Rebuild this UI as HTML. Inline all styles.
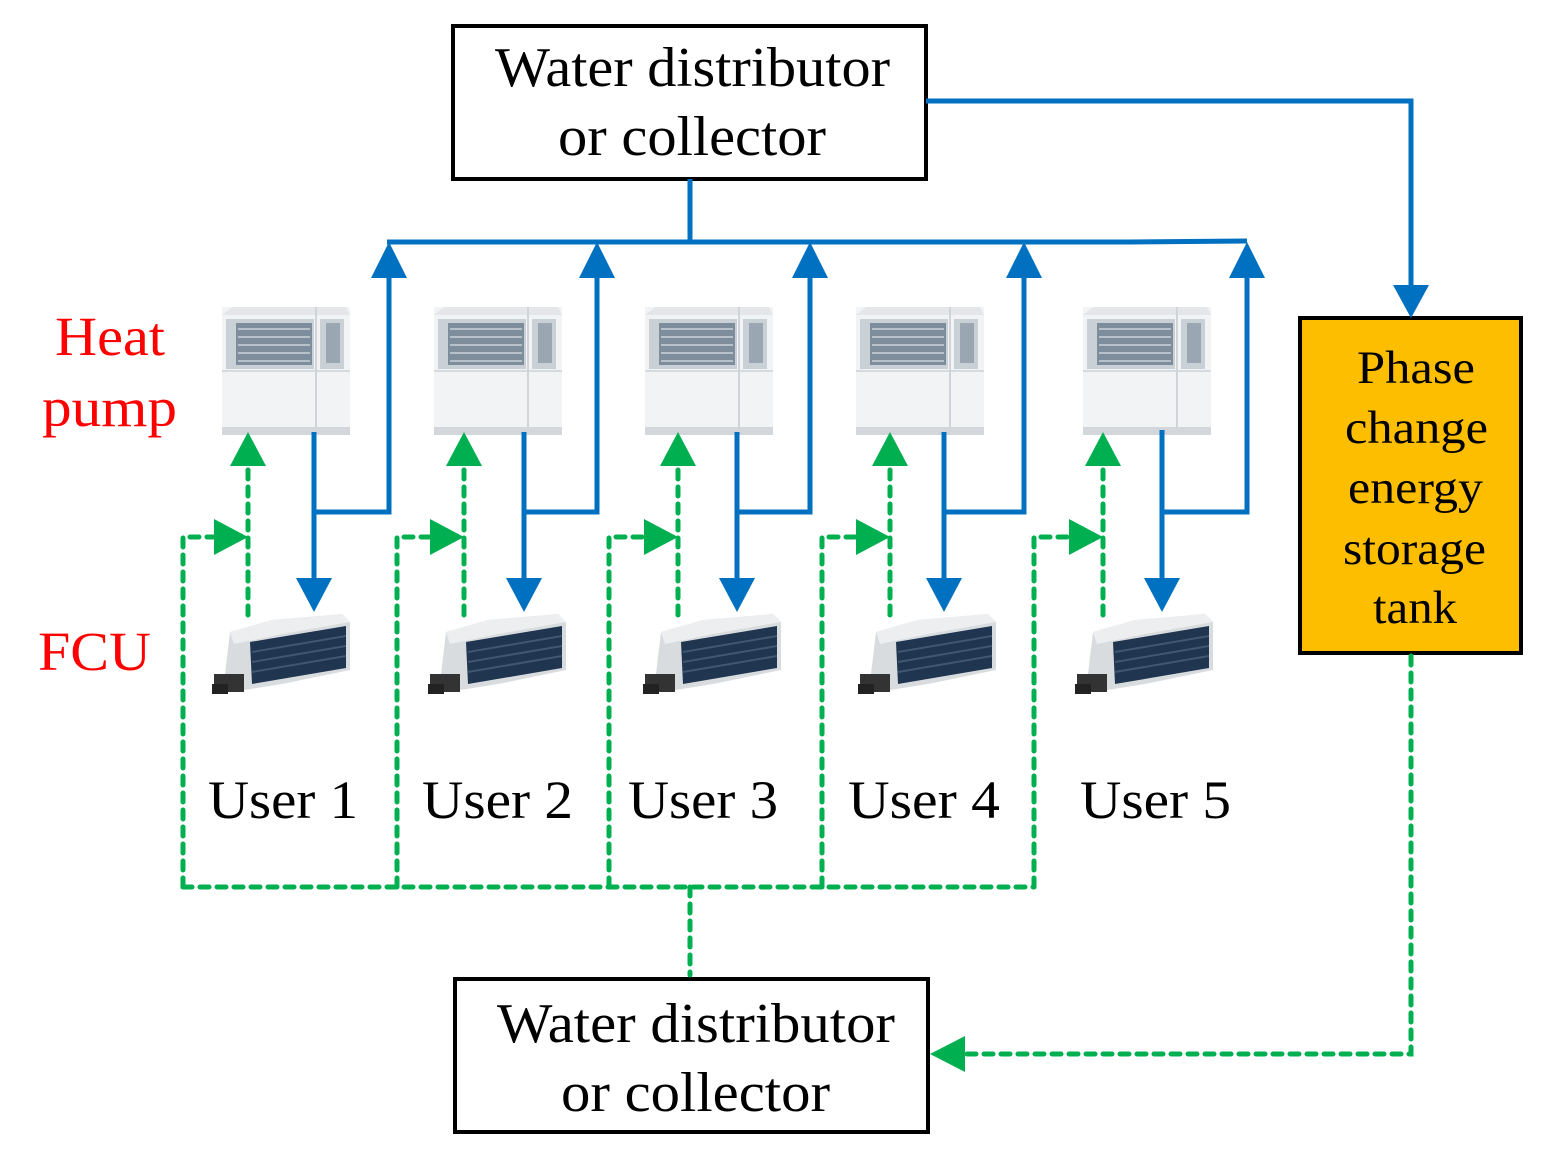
<!DOCTYPE html>
<html><head><meta charset="utf-8"><style>body{margin:0;background:#fff}svg{display:block}text{font-family:"Liberation Serif",serif}</style></head><body>
<svg width="1556" height="1160" viewBox="0 0 1556 1160" xmlns="http://www.w3.org/2000/svg">
<defs>
<g id="hp">
<rect x="0" y="0" width="128" height="128" fill="#f2f3f5"/>
<polygon points="0,8 10,0 124,0 128,8" fill="#e4e6e9"/>
<rect x="4" y="12" width="88" height="50" fill="#c9d0d6"/>
<rect x="14" y="16" width="76" height="42" fill="#7d8d9c"/>
<g stroke="#b7c1ca" stroke-width="2"><line x1="16" y1="22" x2="88" y2="22"/><line x1="16" y1="30" x2="88" y2="30"/><line x1="16" y1="38" x2="88" y2="38"/><line x1="16" y1="46" x2="88" y2="46"/><line x1="16" y1="54" x2="88" y2="54"/></g>
<rect x="98" y="12" width="24" height="50" fill="#c9d0d6"/>
<rect x="104" y="16" width="14" height="40" fill="#9aa6b2"/>
<line x1="0" y1="64" x2="128" y2="64" stroke="#d6d9dd" stroke-width="2"/>
<line x1="94" y1="0" x2="94" y2="128" stroke="#d0d3d8" stroke-width="2"/>
<rect x="0" y="120" width="128" height="8" fill="#d3d6da"/>
</g>
<g id="fcu">
<polygon points="18,20 60,8 130,2 138,10 138,58 70,72 20,80 12,70" fill="#d9dcdf"/>
<polygon points="18,20 60,8 130,2 138,10 70,22 22,32" fill="#eceef0"/>
<polygon points="38,30 134,14 134,56 40,72" fill="#1f3550"/>
<g stroke="#41576f" stroke-width="2"><line x1="40" y1="40" x2="134" y2="24"/><line x1="40" y1="50" x2="134" y2="34"/><line x1="40" y1="60" x2="134" y2="44"/></g>
<rect x="2" y="62" width="30" height="18" fill="#333"/>
<rect x="0" y="72" width="16" height="10" fill="#222"/>
</g>
</defs>

<rect x="453" y="26" width="473" height="153" fill="#fff" stroke="#000" stroke-width="4"/>
<text x="495" y="86" font-size="56" textLength="395" lengthAdjust="spacingAndGlyphs">Water distributor</text>
<text x="558" y="155" font-size="56" textLength="268" lengthAdjust="spacingAndGlyphs">or collector</text>
<rect x="455" y="979" width="473" height="153" fill="#fff" stroke="#000" stroke-width="4"/>
<text x="497" y="1042" font-size="56" textLength="398" lengthAdjust="spacingAndGlyphs">Water distributor</text>
<text x="561" y="1111" font-size="56" textLength="269" lengthAdjust="spacingAndGlyphs">or collector</text>
<rect x="1300" y="318" width="221" height="335" fill="#FDBE00" stroke="#000" stroke-width="4"/>
<g font-size="47" lengthAdjust="spacingAndGlyphs">
<text x="1357" y="383" textLength="118" lengthAdjust="spacingAndGlyphs">Phase</text>
<text x="1345" y="443" textLength="143" lengthAdjust="spacingAndGlyphs">change</text>
<text x="1348" y="503" textLength="135" lengthAdjust="spacingAndGlyphs">energy</text>
<text x="1343" y="564" textLength="143" lengthAdjust="spacingAndGlyphs">storage</text>
<text x="1373" y="623" textLength="84" lengthAdjust="spacingAndGlyphs">tank</text>
</g>
<g fill="#f00" font-size="55">
<text x="55" y="355" textLength="110" lengthAdjust="spacingAndGlyphs">Heat</text>
<text x="42" y="426" textLength="135" lengthAdjust="spacingAndGlyphs">pump</text>
<text x="38" y="670" textLength="113" lengthAdjust="spacingAndGlyphs">FCU</text>
</g>
<g font-size="54">
<text x="208" y="818" textLength="150" lengthAdjust="spacingAndGlyphs">User 1</text>
<text x="422" y="818" textLength="151" lengthAdjust="spacingAndGlyphs">User 2</text>
<text x="628" y="818" textLength="150" lengthAdjust="spacingAndGlyphs">User 3</text>
<text x="848" y="818" textLength="152" lengthAdjust="spacingAndGlyphs">User 4</text>
<text x="1080" y="818" textLength="151" lengthAdjust="spacingAndGlyphs">User 5</text>
</g>

<use href="#hp" x="222" y="307"/><use href="#hp" x="434" y="307"/><use href="#hp" x="645" y="307"/><use href="#hp" x="856" y="307"/><use href="#hp" x="1083" y="307"/>
<use href="#fcu" x="212" y="612"/><use href="#fcu" x="428" y="612"/><use href="#fcu" x="643" y="612"/><use href="#fcu" x="858" y="612"/><use href="#fcu" x="1075" y="612"/>

<g stroke="#0070C0" stroke-width="5" fill="none">
<path d="M926,101 H1411 V285"/>
<path d="M690,179 V242"/>
<path d="M387,242 H1130 L1247,241"/>
<path d="M314,432 V585 M314,512 H389 V275"/>
<path d="M524,432 V585 M524,512 H597 V275"/>
<path d="M737,432 V585 M737,512 H810 V275"/>
<path d="M944,432 V585 M944,512 H1024 V275"/>
<path d="M1162,430 V585 M1162,512 H1247 V275"/>
</g>
<g fill="#0070C0">
<polygon points="1393,285 1429,285 1411,318"/>
<polygon points="296,578 332,578 314,612"/><polygon points="506,578 542,578 524,612"/><polygon points="719,578 755,578 737,612"/><polygon points="926,578 962,578 944,612"/><polygon points="1144,578 1180,578 1162,612"/>
<polygon points="371,278 407,278 389,242"/><polygon points="579,278 615,278 597,242"/><polygon points="792,278 828,278 810,242"/><polygon points="1006,278 1042,278 1024,242"/><polygon points="1229,278 1265,278 1247,242"/>
</g>

<g stroke="#00B050" stroke-width="5" fill="none" stroke-dasharray="9,8" stroke-linecap="round">
<path d="M1411,656 V1054 H965"/>
<path d="M183,887 H1034"/>
<path d="M690,887 V975"/>
<path d="M248,615 V466 M183,887 V537 H216"/>
<path d="M464,615 V466 M397,887 V537 H432"/>
<path d="M678,615 V466 M609,887 V537 H646"/>
<path d="M890,615 V466 M822,887 V537 H858"/>
<path d="M1103,615 V466 M1034,887 V537 H1071"/>
</g>
<g fill="#00B050">
<polygon points="965,1036 965,1072 930,1054"/>
<polygon points="230,466 266,466 248,432"/><polygon points="446,466 482,466 464,432"/><polygon points="660,466 696,466 678,432"/><polygon points="872,466 908,466 890,432"/><polygon points="1085,466 1121,466 1103,432"/>
<polygon points="214,519 214,555 248,537"/><polygon points="430,519 430,555 464,537"/><polygon points="644,519 644,555 678,537"/><polygon points="856,519 856,555 890,537"/><polygon points="1069,519 1069,555 1103,537"/>
</g>
</svg>
</body></html>
